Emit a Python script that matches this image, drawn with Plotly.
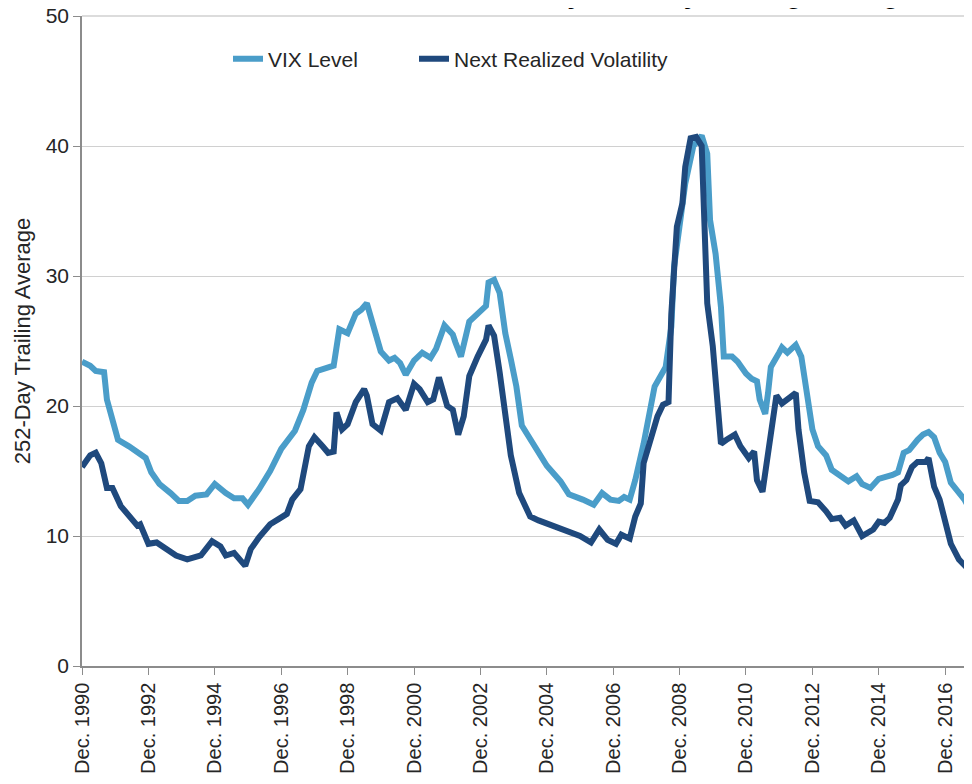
import plotly.graph_objects as go

# ---- data ----
vix_dates = [
    "1990-12", "1991-03", "1991-05", "1991-08", "1991-09", "1991-11", "1992-01", "1992-05",
    "1992-08", "1992-11", "1993-01", "1993-04", "1993-08", "1993-11", "1994-02", "1994-05",
    "1994-09", "1994-12", "1995-04", "1995-07", "1995-10", "1995-12", "1996-04", "1996-08",
    "1996-12", "1997-05", "1997-08", "1997-11", "1998-01", "1998-04", "1998-07", "1998-09",
    "1998-12", "1999-03", "1999-05", "1999-07", "1999-10", "1999-12", "2000-03", "2000-05",
    "2000-07", "2000-09", "2000-12", "2001-03", "2001-06", "2001-08", "2001-11", "2002-02",
    "2002-03", "2002-05", "2002-08", "2002-11", "2003-02", "2003-03", "2003-05", "2003-07",
    "2003-09", "2003-11", "2004-01", "2004-03", "2004-07", "2004-12", "2005-05", "2005-08",
    "2006-01", "2006-05", "2006-08", "2006-11", "2007-02", "2007-04", "2007-06", "2007-08",
    "2007-11", "2008-01", "2008-03", "2008-07", "2008-09", "2008-10", "2008-12", "2009-02",
    "2009-05", "2009-07", "2009-08", "2009-10", "2009-11", "2010-01", "2010-03", "2010-04",
    "2010-07", "2010-09", "2010-12", "2011-02", "2011-04", "2011-05", "2011-07", "2011-08",
    "2011-09", "2011-12", "2012-01", "2012-03", "2012-06", "2012-08", "2012-10", "2012-12",
    "2013-02", "2013-05", "2013-07", "2013-10", "2014-01", "2014-04", "2014-06", "2014-09",
    "2014-12", "2015-05", "2015-07", "2015-09", "2015-11", "2016-02", "2016-04", "2016-06",
    "2016-08", "2016-10", "2016-12", "2017-02", "2017-05", "2017-07", "2017-09",
]
vix_level = [
    23.4, 23.1, 22.7, 22.6, 20.5, 18.7, 17.4, 16.9,
    16.4, 16.0, 14.9, 14.0, 13.3, 12.7, 12.7, 13.1,
    13.2, 14.0, 13.3, 12.9, 12.9, 12.4, 13.6, 15.0,
    16.7, 18.1, 19.7, 21.8, 22.7, 22.9, 23.1, 25.9,
    25.6, 27.1, 27.4, 27.9, 25.4, 24.2, 23.5, 23.7,
    23.3, 22.4, 23.5, 24.1, 23.7, 24.4, 26.2, 25.5,
    24.9, 23.8, 26.5, 27.1, 27.7, 29.5, 29.7, 28.7,
    25.6, 23.6, 21.5, 18.5, 17.1, 15.4, 14.2, 13.2,
    12.8, 12.4, 13.3, 12.8, 12.7, 13.0, 12.8, 14.3,
    17.1, 19.4, 21.5, 23.0, 26.1, 30.7, 34.3, 37.1,
    40.0, 40.6, 40.8, 39.4, 34.3, 31.7, 27.6, 23.8,
    23.8, 23.4, 22.5, 22.1, 21.9, 20.5, 19.4, 21.0,
    23.0, 24.1, 24.5, 24.1, 24.7, 23.8, 20.8, 18.2,
    16.9, 16.2, 15.1, 14.7, 14.2, 14.6, 14.0, 13.7,
    14.4, 14.7, 14.9, 16.4, 16.6, 17.4, 17.8, 18.0,
    17.6, 16.4, 15.7, 14.1, 13.4, 12.8, 12.0,
]

rv_dates = [
    "1990-12", "1991-03", "1991-05", "1991-07", "1991-09", "1991-11", "1992-02", "1992-05",
    "1992-08", "1992-09", "1992-12", "1993-03", "1993-06", "1993-10", "1994-02", "1994-07",
    "1994-11", "1995-02", "1995-04", "1995-07", "1995-11", "1996-01", "1996-04", "1996-08",
    "1996-11", "1997-02", "1997-04", "1997-07", "1997-10", "1997-12", "1998-03", "1998-05",
    "1998-07", "1998-08", "1998-10", "1998-12", "1999-03", "1999-06", "1999-07", "1999-09",
    "1999-12", "2000-03", "2000-06", "2000-09", "2000-12", "2001-02", "2001-05", "2001-07",
    "2001-09", "2001-12", "2002-02", "2002-04", "2002-06", "2002-08", "2002-11", "2003-02",
    "2003-03", "2003-05", "2003-07", "2003-09", "2003-11", "2004-02", "2004-06", "2004-09",
    "2005-02", "2005-07", "2005-12", "2006-04", "2006-07", "2006-10", "2007-01", "2007-03",
    "2007-06", "2007-08", "2007-10", "2007-11", "2008-01", "2008-04", "2008-06", "2008-08",
    "2008-09", "2008-11", "2009-01", "2009-02", "2009-04", "2009-06", "2009-08", "2009-09",
    "2009-10", "2009-12", "2010-02", "2010-03", "2010-05", "2010-08", "2010-10", "2011-01",
    "2011-03", "2011-04", "2011-06", "2011-08", "2011-09", "2011-11", "2012-01", "2012-04",
    "2012-06", "2012-07", "2012-09", "2012-11", "2013-02", "2013-05", "2013-07", "2013-10",
    "2013-12", "2014-03", "2014-06", "2014-10", "2014-12", "2015-02", "2015-04", "2015-07",
    "2015-08", "2015-10", "2015-12", "2016-02", "2016-05", "2016-06", "2016-08", "2016-10",
    "2016-12", "2017-02", "2017-05", "2017-07", "2017-09",
]
realized_vol = [
    15.3, 16.2, 16.4, 15.6, 13.7, 13.7, 12.3, 11.5,
    10.8, 10.9, 9.4, 9.5, 9.1, 8.5, 8.2, 8.5,
    9.6, 9.2, 8.5, 8.7, 7.7, 9.0, 9.9, 10.9,
    11.3, 11.7, 12.8, 13.6, 16.9, 17.6, 16.9, 16.4,
    16.5, 19.5, 18.2, 18.6, 20.3, 21.3, 20.8, 18.6,
    18.1, 20.3, 20.6, 19.7, 21.7, 21.3, 20.3, 20.5,
    22.2, 20.0, 19.7, 17.8, 19.2, 22.3, 23.8, 25.1,
    26.2, 25.4, 22.6, 19.2, 16.2, 13.3, 11.5, 11.2,
    10.8, 10.3, 10.0, 9.5, 10.5, 9.7, 9.4, 10.1,
    9.8, 11.5, 12.5, 15.6, 17.1, 19.2, 20.1, 20.3,
    27.1, 33.8, 35.6, 38.4, 40.6, 40.7, 40.0, 34.3,
    27.9, 24.6, 20.2, 17.1, 17.4, 17.8, 16.9, 16.0,
    16.5, 14.3, 13.4, 16.6, 17.9, 20.8, 20.2, 20.7,
    21.0, 18.2, 14.9, 12.7, 12.6, 11.9, 11.3, 11.4,
    10.8, 11.2, 10.0, 10.5, 11.1, 11.0, 11.4, 12.8,
    13.9, 14.3, 15.3, 15.7, 15.7, 16.0, 13.8, 12.8,
    11.2, 9.4, 8.2, 7.8, 7.3,
]

tick_years = list(range(1990, 2017, 2))
tick_vals = [f"{y}-12-01" for y in tick_years]
tick_text = [f"Dec. {y}" for y in tick_years]
y_ticks = [0, 10, 20, 30, 40, 50]

series_names = ["VIX Level", "Next Realized Volatility"]
colors = ["#4A9DC9", "#1F497D"]

FONT = "Liberation Sans, Arial, sans-serif"
TXT = "#262626"
GRID = "#D0D0D0"

fig = go.Figure()
fig.add_trace(go.Scatter(x=vix_dates, y=vix_level, mode="lines", name=series_names[0],
                         line=dict(color=colors[0], width=6), legend="legend"))
fig.add_trace(go.Scatter(x=rv_dates, y=realized_vol, mode="lines", name=series_names[1],
                         line=dict(color=colors[1], width=6), legend="legend2"))

legend_common = dict(orientation="h", xanchor="left", y=0.9336, yanchor="middle",
                     font=dict(size=21, color=TXT), bgcolor="rgba(0,0,0,0)")

# the page body has an 8px margin: the figure is sized to fit inside the window
fig.update_layout(
    width=964, height=776,
    margin=dict(l=74, r=0, t=8, b=118),
    paper_bgcolor="white", plot_bgcolor="white",
    font=dict(family=FONT, size=21, color=TXT),
    showlegend=True,
    legend=dict(x=(228 - 82) / 890, **legend_common),
    legend2=dict(x=(414 - 82) / 890, **legend_common),
    xaxis=dict(type="date", range=["1990-12-01", "2017-09-22"], automargin=False,
               tickvals=tick_vals, ticktext=tick_text, tickangle=-90,
               ticks="outside", ticklen=7, tickcolor="#8C8C8C",
               showline=True, linecolor="#8C8C8C", linewidth=1.5,
               showgrid=False, zeroline=False, ticklabeloverflow="allow",
               tickfont=dict(size=20, color=TXT)),
    yaxis=dict(range=[0, 50], tickvals=y_ticks, ticks="outside", ticklen=7,
               tickcolor="#8C8C8C", automargin=False, ticklabeloverflow="allow",
               showline=True, linecolor="#8C8C8C", linewidth=1.5,
               showgrid=True, gridcolor=GRID, gridwidth=1.3, zeroline=False,
               tickfont=dict(size=21, color=TXT),
               title=dict(text="252-Day Trailing Average", font=dict(size=22, color=TXT),
                          standoff=9)),
    # top gridline (at the upper edge of the plot area)
    shapes=[dict(type="line", xref="paper", x0=0, x1=1, yref="paper", y0=1, y1=1,
                 line=dict(color=GRID, width=1.5), layer="below")],
    annotations=[dict(text="<b>VIX Level vs. Next Realized Volatility, 252-Day Trailing Average</b>",
                      xref="paper", yref="paper", x=(916 - 82) / 890, y=1,
                      xanchor="right", yanchor="bottom", yshift=5, showarrow=False,
                      font=dict(size=27, color="#000000", family=FONT))],
)

fig.write_html("out.html")
